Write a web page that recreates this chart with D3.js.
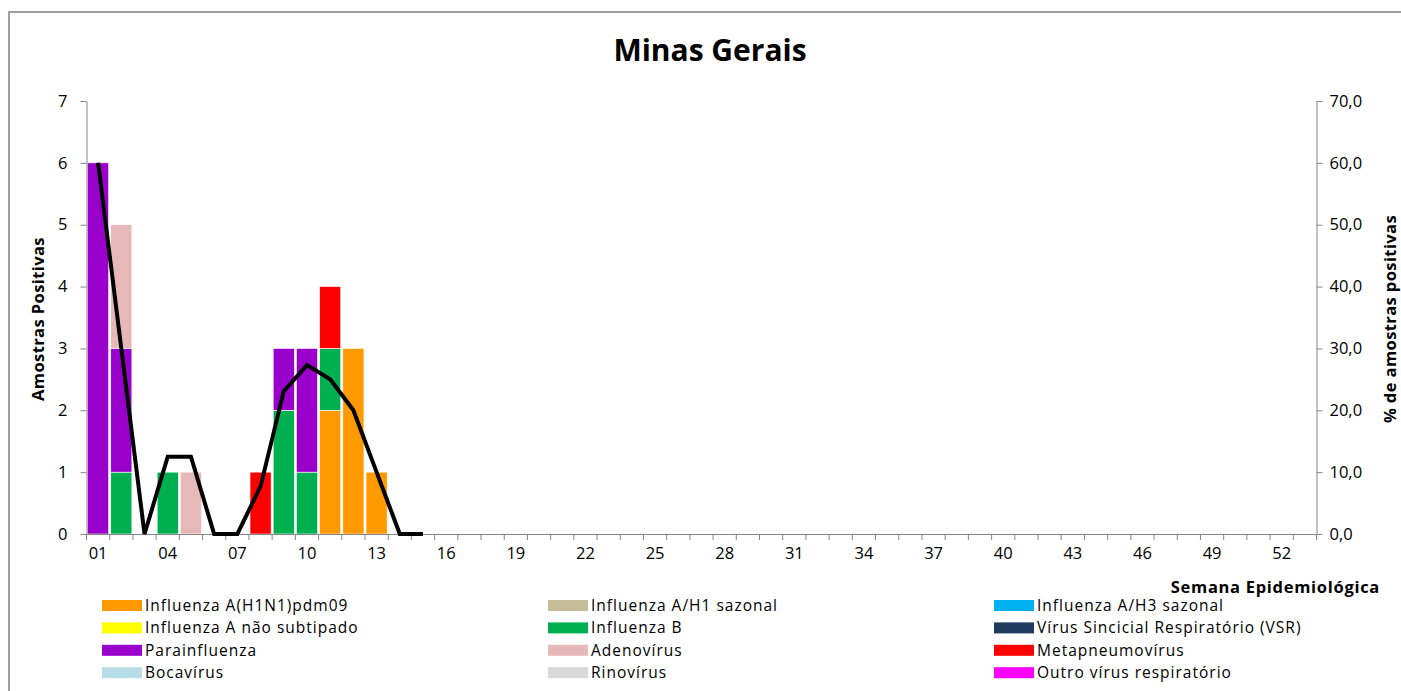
<!DOCTYPE html>
<html>
<head>
<meta charset="utf-8">
<script src="https://cdn.jsdelivr.net/npm/d3@7"></script>
<style>
  body { margin: 0; background: #fff; }
  svg { display: block; }
  text { font-family: "Open Sans", Lato, sans-serif; fill: #000; }
</style>
</head>
<body>
<svg width="1401" height="691"></svg>
<script>
// semanas epidemiológicas (eixo x)
const weeks = ["01","02","03","04","05","06","07","08","09","10","11","12","13","14","15","16","17","18",
  "19","20","21","22","23","24","25","26","27","28","29","30","31","32","33","34","35","36",
  "37","38","39","40","41","42","43","44","45","46","47","48","49","50","51","52","53"];
const weekLabels = ["01","04","07","10","13","16","19","22","25","28","31","34","37","40","43","46","49","52"];

// semanas com dados (01 a 15)
const dataWeeks = ["01","02","03","04","05","06","07","08","09","10","11","12","13","14","15"];

const virusNames = ["Influenza A(H1N1)pdm09", "Influenza A/H1 sazonal", "Influenza A/H3 sazonal",
  "Influenza A não subtipado", "Influenza B", "Vírus Sincicial Respiratório (VSR)",
  "Parainfluenza", "Adenovírus", "Metapneumovírus", "Bocavírus", "Rinovírus", "Outro vírus respiratório"];
const virusColors = ["#FF9900", "#C4BD97", "#00B0F0", "#FFFF00", "#00B050", "#1F3B5F",
  "#9900CC", "#E6B9B8", "#FF0000", "#B7DEE8", "#D9D9D9", "#FF00FF"];

// amostras positivas por semana
const h1n1pdm = [0, 0, 0, 0, 0, 0, 0, 0, 0, 0, 2, 3, 1, 0, 0];
const h1Sazonal = [0, 0, 0, 0, 0, 0, 0, 0, 0, 0, 0, 0, 0, 0, 0];
const h3Sazonal = [0, 0, 0, 0, 0, 0, 0, 0, 0, 0, 0, 0, 0, 0, 0];
const naoSubtipado = [0, 0, 0, 0, 0, 0, 0, 0, 0, 0, 0, 0, 0, 0, 0];
const influenzaB = [0, 1, 0, 1, 0, 0, 0, 0, 2, 1, 1, 0, 0, 0, 0];
const vsr = [0, 0, 0, 0, 0, 0, 0, 0, 0, 0, 0, 0, 0, 0, 0];
const parainfluenza = [6, 2, 0, 0, 0, 0, 0, 0, 1, 2, 0, 0, 0, 0, 0];
const adenovirus = [0, 2, 0, 0, 1, 0, 0, 0, 0, 0, 0, 0, 0, 0, 0];
const metapneumovirus = [0, 0, 0, 0, 0, 0, 0, 1, 0, 0, 1, 0, 0, 0, 0];
const bocavirus = [0, 0, 0, 0, 0, 0, 0, 0, 0, 0, 0, 0, 0, 0, 0];
const rinovirus = [0, 0, 0, 0, 0, 0, 0, 0, 0, 0, 0, 0, 0, 0, 0];
const outroVirus = [0, 0, 0, 0, 0, 0, 0, 0, 0, 0, 0, 0, 0, 0, 0];

// % de amostras positivas
const percentPositive = [60, 30, 0, 12.5, 12.5, 0, 0, 7.7, 23.1, 27.3, 25, 20, 10, 0, 0];

const series = [h1n1pdm, h1Sazonal, h3Sazonal, naoSubtipado, influenzaB, vsr,
  parainfluenza, adenovirus, metapneumovirus, bocavirus, rinovirus, outroVirus];

const rows = dataWeeks.map((w, i) => {
  const r = { week: w };
  series.forEach((s, k) => { r[k] = s[i]; });
  return r;
});

const svg = d3.select("svg");
const axisColor = "#868686";

// moldura
svg.append("path")
  .attr("d", "M9,700 L9,12 L1410,12")
  .attr("fill", "none")
  .attr("stroke", "#a0a0a0")
  .attr("stroke-width", 2);

const plotLeft = 86.5, plotRight = 1316.5, plotBottom = 534, plotTop = 101;

const x = d3.scaleBand().domain(weeks).range([plotLeft, plotRight]);
const y = d3.scaleLinear().domain([0, 7]).range([plotBottom, plotTop]);
const y2 = d3.scaleLinear().domain([0, 70]).range([plotBottom, plotTop]);

// barras empilhadas
const stack = d3.stack().keys(d3.range(series.length));
const stacked = stack(rows);
const barW = x.bandwidth() * 0.91;

svg.append("g").selectAll("g")
  .data(stacked)
  .join("g")
    .attr("fill", (d, i) => virusColors[i])
  .selectAll("rect")
  .data(d => d.filter(s => s[1] > s[0]))
  .join("rect")
    .attr("x", d => x(d.data.week) + (x.bandwidth() - barW) / 2)
    .attr("y", d => y(d[1]))
    .attr("width", barW)
    .attr("height", d => y(d[0]) - y(d[1]))
    .attr("stroke", "#fff")
    .attr("stroke-width", 0.6);

// eixo x
const gx = svg.append("g")
  .attr("transform", `translate(0,${plotBottom})`)
  .call(d3.axisBottom(x).tickValues(weekLabels).tickSize(0).tickPadding(13));
gx.select(".domain").attr("stroke", axisColor);
gx.selectAll("text").attr("font-size", 16.5);
gx.selectAll(".tick line").remove();
gx.selectAll(".sep")
  .data(weeks.concat(["end"]))
  .join("line")
    .attr("class", "sep")
    .attr("x1", d => d === "end" ? plotRight : x(d))
    .attr("x2", d => d === "end" ? plotRight : x(d))
    .attr("y1", 0)
    .attr("y2", 6)
    .attr("stroke", axisColor);

// eixo y esquerdo
const gy = svg.append("g")
  .attr("transform", `translate(${plotLeft},0)`)
  .call(d3.axisLeft(y).ticks(7).tickSize(6).tickSizeOuter(0).tickPadding(13));
gy.select(".domain").attr("stroke", axisColor);
gy.selectAll(".tick line").attr("stroke", axisColor);
gy.selectAll("text").attr("font-size", 16.5);

// eixo y direito
const gy2 = svg.append("g")
  .attr("transform", `translate(${plotRight},0)`)
  .call(d3.axisRight(y2).ticks(7).tickSize(6).tickSizeOuter(0).tickPadding(7)
    .tickFormat(d => d.toFixed(1).replace(".", ",")));
gy2.select(".domain").attr("stroke", axisColor);
gy2.selectAll(".tick line").attr("stroke", axisColor);
gy2.selectAll("text").attr("font-size", 16.5);

// linha de % positivas
const line = d3.line()
  .x((d, i) => x(dataWeeks[i]) + x.bandwidth() / 2)
  .y(d => y2(d));

svg.append("path")
  .datum(percentPositive)
  .attr("fill", "none")
  .attr("stroke", "#000")
  .attr("stroke-width", 4)
  .attr("stroke-linejoin", "miter")
  .attr("d", line);

// títulos
svg.append("text")
  .attr("x", 710).attr("y", 61)
  .attr("text-anchor", "middle")
  .attr("font-size", 30).attr("font-weight", "bold")
  .text("Minas Gerais");

svg.append("text")
  .attr("transform", "translate(44,319) rotate(-90)")
  .attr("text-anchor", "middle")
  .attr("font-size", 16.5).attr("font-weight", "bold")
  .attr("letter-spacing", 0.4)
  .text("Amostras Positivas");

svg.append("text")
  .attr("transform", "translate(1396,319) rotate(-90)")
  .attr("text-anchor", "middle")
  .attr("font-size", 16.5).attr("font-weight", "bold")
  .attr("letter-spacing", 0.4)
  .text("% de amostras positivas");

svg.append("text")
  .attr("x", 1380).attr("y", 593)
  .attr("text-anchor", "end")
  .attr("font-size", 16.5).attr("font-weight", "bold")
  .attr("letter-spacing", 0.7)
  .text("Semana Epidemiológica");

// legenda
const legendCols = [102, 548, 994];
const legend = svg.append("g").selectAll("g")
  .data(virusNames)
  .join("g")
    .attr("transform", (d, i) => `translate(${legendCols[i % 3]},${600 + Math.floor(i / 3) * 22.4})`);
legend.append("rect")
  .attr("width", 40).attr("height", 11)
  .attr("fill", (d, i) => virusColors[i]);
legend.append("text")
  .attr("x", 43).attr("y", 11)
  .attr("font-size", 15.5)
  .attr("letter-spacing", 1)
  .text(d => d);
</script>
</body>
</html>
